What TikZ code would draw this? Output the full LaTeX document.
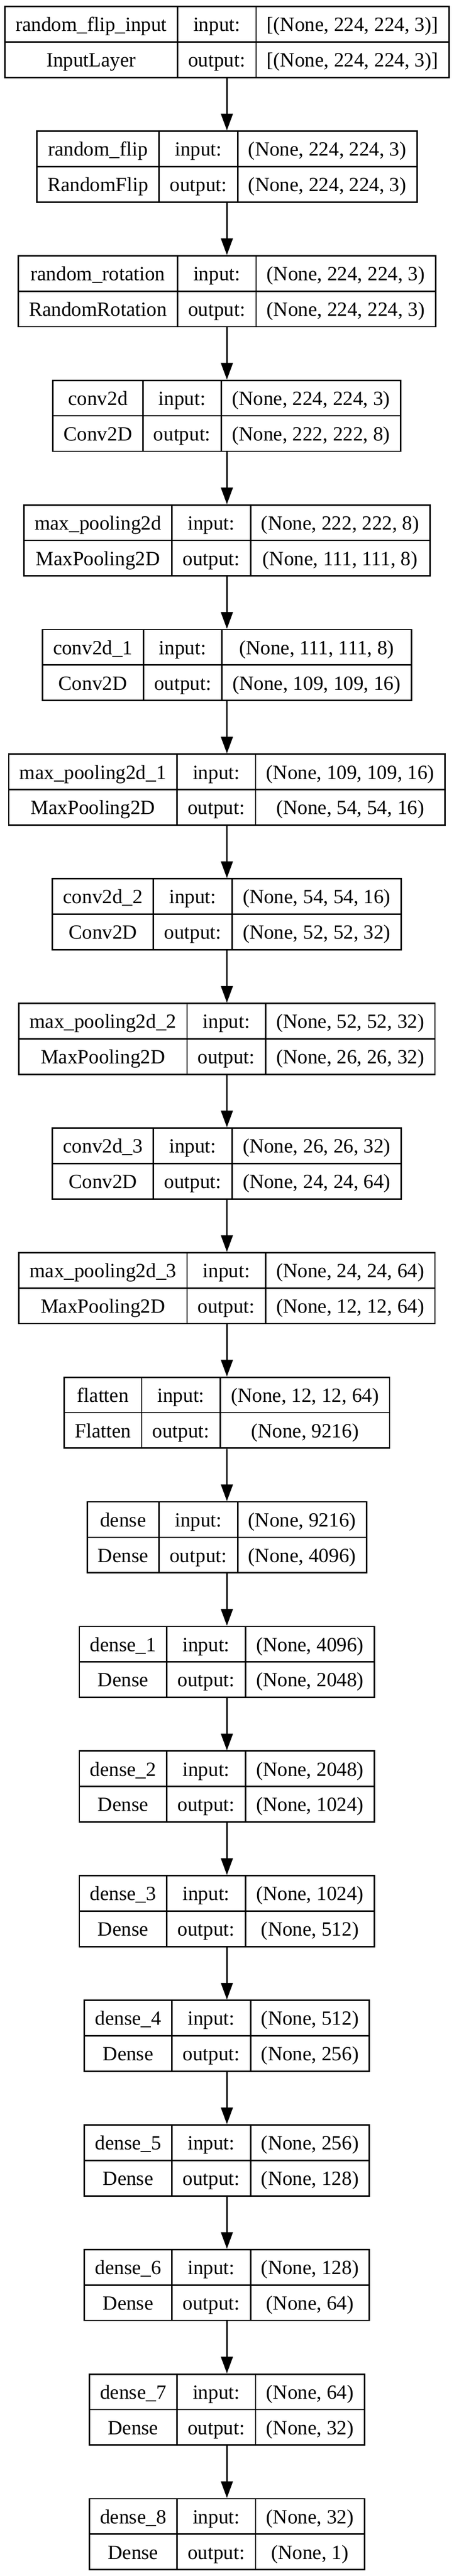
\documentclass[tikz,border=0pt]{standalone}
\usepackage{fontspec}
\setmainfont{Liberation Serif}
\usetikzlibrary{arrows.meta,fit}
\newlength\lwA \newlength\lwB \newlength\lwC \newlength\lwT
\newcommand\lfont{\fontsize{13.915pt}{16pt}\selectfont}
\tikzset{
  cell/.style={draw=black, line width=1pt, inner sep=0pt, outer sep=0pt,
    anchor=north west, minimum height=24.48pt, font=\lfont,
    text height=12.2pt, text depth=2.4pt, align=center},
  layerbox/.style={draw=none, inner sep=0pt, outer sep=0.5pt},
  flow/.style={-{Triangle[length=11.5pt,width=8.2pt]}, line width=0.96pt, draw=black}
}
% measuring pass (outside the picture, where the font is active)
\newcommand\measurelayer[5]{%
  \settowidth\lwA{\lfont #2}\settowidth\lwT{\lfont #3}%
  \ifdim\lwT>\lwA \lwA=\lwT\fi
  \addtolength\lwA{14.81pt}%
  \settowidth\lwB{\lfont output:}\addtolength\lwB{14.81pt}%
  \settowidth\lwC{\lfont #4}\settowidth\lwT{\lfont #5}%
  \ifdim\lwT>\lwC \lwC=\lwT\fi
  \addtolength\lwC{14.81pt}%
  \expandafter\xdef\csname wA#1\endcsname{\the\lwA}%
  \expandafter\xdef\csname wB#1\endcsname{\the\lwB}%
  \expandafter\xdef\csname wC#1\endcsname{\the\lwC}%
}
% drawing pass: #1 index, #2 name, #3 type, #4 input shape, #5 output shape
\newcommand\drawlayer[5]{%
  \edef\cA{\csname wA#1\endcsname}\edef\cB{\csname wB#1\endcsname}\edef\cC{\csname wC#1\endcsname}%
  \pgfmathsetmacro\xl{156.564 - (\cA+\cB+\cC)/2}%
  \pgfmathsetmacro\yt{-(4.488 + #1*86.004)}%
  \node[cell, minimum width=\cA] (L#1n) at (\xl pt,\yt pt) {#2};
  \node[cell, minimum width=\cA] (L#1t) at (L#1n.south west) {#3};
  \node[cell, minimum width=\cB] (L#1i) at (L#1n.north east) {input:};
  \node[cell, minimum width=\cB] (L#1o) at (L#1i.south west) {output:};
  \node[cell, minimum width=\cC] (L#1a) at (L#1i.north east) {#4};
  \node[cell, minimum width=\cC] (L#1b) at (L#1a.south west) {#5};
  \node[layerbox, fit=(L#1n.north west)(L#1b.south east)] (L#1) {};
}
\newcommand\layerdata{%
\layer{0}{random\_flip\_input}{InputLayer}{[(None, 224, 224, 3)]}{[(None, 224, 224, 3)]}%
\layer{1}{random\_flip}{RandomFlip}{(None, 224, 224, 3)}{(None, 224, 224, 3)}%
\layer{2}{random\_rotation}{RandomRotation}{(None, 224, 224, 3)}{(None, 224, 224, 3)}%
\layer{3}{conv2d}{Conv2D}{(None, 224, 224, 3)}{(None, 222, 222, 8)}%
\layer{4}{max\_pooling2d}{MaxPooling2D}{(None, 222, 222, 8)}{(None, 111, 111, 8)}%
\layer{5}{conv2d\_1}{Conv2D}{(None, 111, 111, 8)}{(None, 109, 109, 16)}%
\layer{6}{max\_pooling2d\_1}{MaxPooling2D}{(None, 109, 109, 16)}{(None, 54, 54, 16)}%
\layer{7}{conv2d\_2}{Conv2D}{(None, 54, 54, 16)}{(None, 52, 52, 32)}%
\layer{8}{max\_pooling2d\_2}{MaxPooling2D}{(None, 52, 52, 32)}{(None, 26, 26, 32)}%
\layer{9}{conv2d\_3}{Conv2D}{(None, 26, 26, 32)}{(None, 24, 24, 64)}%
\layer{10}{max\_pooling2d\_3}{MaxPooling2D}{(None, 24, 24, 64)}{(None, 12, 12, 64)}%
\layer{11}{flatten}{Flatten}{(None, 12, 12, 64)}{(None, 9216)}%
\layer{12}{dense}{Dense}{(None, 9216)}{(None, 4096)}%
\layer{13}{dense\_1}{Dense}{(None, 4096)}{(None, 2048)}%
\layer{14}{dense\_2}{Dense}{(None, 2048)}{(None, 1024)}%
\layer{15}{dense\_3}{Dense}{(None, 1024)}{(None, 512)}%
\layer{16}{dense\_4}{Dense}{(None, 512)}{(None, 256)}%
\layer{17}{dense\_5}{Dense}{(None, 256)}{(None, 128)}%
\layer{18}{dense\_6}{Dense}{(None, 128)}{(None, 64)}%
\layer{19}{dense\_7}{Dense}{(None, 64)}{(None, 32)}%
\layer{20}{dense\_8}{Dense}{(None, 32)}{(None, 1)}%
}
\begin{document}%
\let\layer\measurelayer\layerdata%
\begin{tikzpicture}
\let\layer\drawlayer
\fill[white] (0,0) rectangle (313.2pt,-1777.92pt);
\useasboundingbox (0,0) rectangle (313.2pt,-1777.92pt);
\layerdata
\foreach \a [evaluate=\a as \b using int(\a+1)] in {0,...,19} {
  \draw[flow] (L\a.south) -- (L\b.north);
}
\end{tikzpicture}%
\end{document}
